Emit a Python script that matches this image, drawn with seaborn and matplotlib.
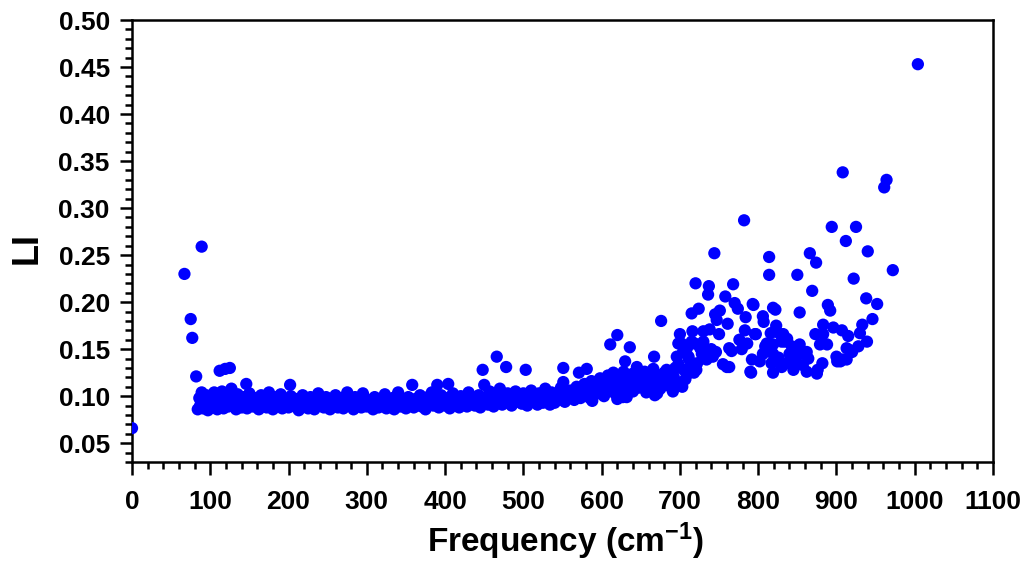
import matplotlib
matplotlib.use("Agg")
import matplotlib.pyplot as plt
import seaborn as sns
import numpy as np
import pandas as pd
from matplotlib.ticker import MultipleLocator
from matplotlib import font_manager as fm

# ---------------- data ----------------
low_freq = [0, 67, 75, 77, 82, 89, 112, 119, 125, 146, 202]
low_li = [0.066, 0.230, 0.182, 0.162, 0.121, 0.259, 0.127, 0.129, 0.130, 0.113, 0.112]

band_freq = [
    84, 86, 87, 89, 91, 93, 95, 97, 99, 101,
    103, 105, 107, 109, 111, 113, 115, 117, 119, 121,
    123, 125, 127, 129, 131, 133, 135, 138, 140, 142,
    145, 147, 150, 152, 155, 157, 160, 162, 165, 167,
    170, 172, 175, 177, 180, 182, 185, 187, 190, 192,
    195, 197, 200, 203, 205, 208, 210, 213, 215, 218,
    220, 223, 225, 228, 230, 233, 235, 238, 240, 243,
    245, 248, 250, 253, 255, 258, 260, 263, 265, 268,
    270, 273, 275, 278, 280, 283, 285, 288, 290, 293,
    295, 298, 300, 303, 305, 308, 310, 313, 315, 318,
    320, 323, 325, 328, 330, 333, 335, 338, 340, 343,
    345, 348, 350, 353, 355, 358, 360, 362, 365, 368,
    370, 373, 375, 378, 380, 383, 385, 388, 390, 392,
    395, 397, 400, 403, 404, 406, 408, 410, 413, 415,
    418, 420, 423, 425, 428, 430, 433, 435, 438, 440,
    443, 445, 448, 450, 450, 452, 455, 457, 460, 462,
    465, 466, 468, 470, 473, 475, 478, 478, 480, 483,
    485, 488, 490, 493, 495, 498, 500, 503, 503, 505,
    508, 510, 513, 515, 518, 520, 523, 525, 528, 530,
    533, 534, 536, 538, 540, 543, 545, 548, 550, 551,
    551, 553, 555, 558, 560,
]
band_li = [
    0.086, 0.098, 0.090, 0.104, 0.087, 0.094, 0.101, 0.085, 0.092, 0.097,
    0.088, 0.104, 0.093, 0.086, 0.099, 0.091, 0.105, 0.087, 0.096, 0.101,
    0.089, 0.094, 0.108, 0.091, 0.097, 0.086, 0.102, 0.093, 0.088, 0.099,
    0.095, 0.087, 0.103, 0.092, 0.089, 0.098, 0.094, 0.086, 0.101, 0.091,
    0.097, 0.088, 0.104, 0.093, 0.086, 0.099, 0.091, 0.095, 0.102, 0.087,
    0.097, 0.092, 0.088, 0.100, 0.094, 0.089, 0.097, 0.085, 0.093, 0.101,
    0.090, 0.096, 0.087, 0.099, 0.092, 0.086, 0.097, 0.103, 0.090, 0.094,
    0.088, 0.099, 0.093, 0.086, 0.096, 0.091, 0.101, 0.088, 0.094, 0.098,
    0.087, 0.092, 0.104, 0.090, 0.095, 0.086, 0.099, 0.092, 0.097, 0.088,
    0.103, 0.094, 0.089, 0.096, 0.091, 0.086, 0.099, 0.093, 0.088, 0.097,
    0.091, 0.102, 0.087, 0.095, 0.090, 0.098, 0.086, 0.093, 0.104, 0.089,
    0.096, 0.091, 0.087, 0.099, 0.094, 0.112, 0.088, 0.097, 0.092, 0.101,
    0.089, 0.095, 0.086, 0.099, 0.093, 0.104, 0.090, 0.096, 0.112, 0.088,
    0.101, 0.094, 0.090, 0.098, 0.113, 0.087, 0.095, 0.103, 0.091, 0.097,
    0.088, 0.100, 0.093, 0.096, 0.089, 0.104, 0.092, 0.098, 0.090, 0.095,
    0.101, 0.088, 0.128, 0.112, 0.094, 0.099, 0.091, 0.105, 0.096, 0.089,
    0.101, 0.142, 0.094, 0.108, 0.091, 0.098, 0.131, 0.093, 0.103, 0.096,
    0.090, 0.100, 0.105, 0.094, 0.099, 0.092, 0.103, 0.128, 0.096, 0.090,
    0.101, 0.106, 0.094, 0.099, 0.091, 0.103, 0.097, 0.093, 0.108, 0.100,
    0.095, 0.091, 0.104, 0.098, 0.093, 0.101, 0.096, 0.109, 0.099, 0.130,
    0.115, 0.094, 0.103, 0.098, 0.106,
]

rise_freq = [
    563, 565, 568, 570, 571, 573, 575, 578, 580, 581,
    583, 585, 587, 588, 590, 593, 595, 598, 600, 603,
    605, 608, 610, 611, 611, 613, 615, 617, 620, 620,
    621, 623, 625, 627, 628, 630, 630, 632, 634, 636,
    637, 640, 640, 643, 645, 647, 650, 653, 655, 657,
    660, 663, 666, 667, 668, 670, 671, 673, 675, 676,
    678, 680, 683, 685, 688, 691, 692, 694, 696, 697,
    698, 698, 700,
]
rise_li = [
    0.101, 0.096, 0.110, 0.103, 0.125, 0.098, 0.107, 0.113, 0.101, 0.129,
    0.109, 0.098, 0.116, 0.095, 0.106, 0.112, 0.103, 0.119, 0.109, 0.100,
    0.116, 0.122, 0.106, 0.155, 0.119, 0.112, 0.125, 0.103, 0.165, 0.097,
    0.115, 0.121, 0.108, 0.099, 0.126, 0.137, 0.113, 0.099, 0.119, 0.152,
    0.106, 0.105, 0.124, 0.115, 0.131, 0.109, 0.120, 0.113, 0.126, 0.104,
    0.118, 0.110, 0.129, 0.142, 0.101, 0.122, 0.103, 0.115, 0.108, 0.180,
    0.113, 0.125, 0.128, 0.118, 0.110, 0.105, 0.121, 0.130, 0.142, 0.115,
    0.134, 0.156, 0.166,
]

high_freq = [
    702, 703, 704, 705, 707, 709, 709, 711, 711, 713,
    715, 715, 716, 718, 719, 720, 721, 722, 724, 726,
    728, 730, 730, 734, 736, 737, 738, 740, 742, 744,
    745, 746, 747, 750, 751, 755, 758, 760, 761, 763,
    763, 766, 768, 770, 774, 776, 779, 782, 783, 784,
    786, 790, 791, 792, 793, 794, 796, 797, 802, 806,
    806, 807, 809, 811, 814, 814, 816, 817, 819, 819,
    819, 819, 822, 823, 828, 830, 830, 832, 834, 837,
    843, 845, 845, 850, 853, 853, 853, 862, 862, 864,
    866, 869, 873, 874, 875, 876, 879, 882, 883, 883,
    888, 889, 892, 894, 896, 900, 901, 905, 907, 908,
    908, 912, 913, 913, 915, 917, 920, 922, 925, 928,
    930, 933, 938, 939, 940, 946, 952, 961, 964, 972,
    826, 836, 840, 848, 857, 1004,
]
high_li = [
    0.156, 0.110, 0.147, 0.128, 0.118, 0.151, 0.123, 0.140, 0.142, 0.132,
    0.158, 0.188, 0.169, 0.125, 0.156, 0.220, 0.128, 0.135, 0.193, 0.151,
    0.145, 0.158, 0.169, 0.139, 0.208, 0.217, 0.171, 0.150, 0.142, 0.252,
    0.187, 0.147, 0.181, 0.166, 0.191, 0.134, 0.206, 0.131, 0.177, 0.151,
    0.131, 0.148, 0.219, 0.199, 0.193, 0.160, 0.150, 0.287, 0.170, 0.184,
    0.156, 0.126, 0.125, 0.139, 0.198, 0.197, 0.166, 0.166, 0.137, 0.145,
    0.185, 0.179, 0.153, 0.156, 0.248, 0.229, 0.167, 0.135, 0.194, 0.145,
    0.125, 0.155, 0.192, 0.175, 0.166, 0.158, 0.131, 0.166, 0.158, 0.161,
    0.153, 0.150, 0.128, 0.229, 0.189, 0.155, 0.145, 0.147, 0.126, 0.140,
    0.252, 0.212, 0.166, 0.242, 0.124, 0.128, 0.155, 0.135, 0.176, 0.166,
    0.155, 0.197, 0.191, 0.280, 0.173, 0.142, 0.137, 0.137, 0.170, 0.338,
    0.139, 0.265, 0.151, 0.139, 0.164, 0.149, 0.147, 0.225, 0.280, 0.153,
    0.167, 0.176, 0.204, 0.158, 0.254, 0.182, 0.198, 0.322, 0.330, 0.234,
    0.141, 0.135, 0.145, 0.138, 0.133, 0.453,
]

x_ticks = [0, 100, 200, 300, 400, 500, 600, 700, 800, 900, 1000, 1100]
x_tick_labels = ["0", "100", "200", "300", "400", "500", "600", "700",
                 "800", "900", "1000", "1100"]
y_ticks = [0.05, 0.10, 0.15, 0.20, 0.25, 0.30, 0.35, 0.40, 0.45, 0.50]
y_tick_labels = ["0.05", "0.10", "0.15", "0.20", "0.25", "0.30", "0.35",
                 "0.40", "0.45", "0.50"]

# ---------------- style ----------------
sns.set_style("ticks")
plt.rcParams["font.family"] = ["Liberation Sans", "DejaVu Sans"]
plt.rcParams["mathtext.fontset"] = "custom"
plt.rcParams["mathtext.rm"] = "Liberation Sans:bold"
plt.rcParams["mathtext.it"] = "Liberation Sans:bold"
plt.rcParams["mathtext.bf"] = "Liberation Sans:bold"
plt.rcParams["mathtext.default"] = "rm"
for key in ["text.color", "axes.labelcolor", "xtick.color", "ytick.color",
            "xtick.labelcolor", "ytick.labelcolor", "axes.edgecolor"]:
    plt.rcParams[key] = "black"

names = {f.name for f in fm.fontManager.ttflist}
narrow = "Liberation Sans Narrow" if "Liberation Sans Narrow" in names else "Liberation Sans"

df = pd.DataFrame({
    "freq": np.concatenate([low_freq, band_freq, rise_freq, high_freq]),
    "li": np.concatenate([low_li, band_li, rise_li, high_li]),
})

W, H = 1033, 561
fig = plt.figure(figsize=(W / 100, H / 100), dpi=100)
ax = fig.add_axes([132 / W, 1 - 462 / H, (993 - 132) / W, (462 - 20) / H])

sns.scatterplot(data=df, x="freq", y="li", color="#0000FF", s=78,
                linewidth=0, edgecolor="none", ax=ax, legend=False, zorder=3)

ax.set_xlim(0, 1100)
ax.set_ylim(0.03, 0.50)
ax.set_xticks(x_ticks)
ax.set_xticklabels(x_tick_labels, fontfamily=narrow, fontweight="bold",
                   fontsize=19, color="black")
ax.set_yticks(y_ticks)
ax.set_yticklabels(y_tick_labels, fontweight="bold", fontsize=19, color="black")
ax.xaxis.set_minor_locator(MultipleLocator(20))
ax.yaxis.set_minor_locator(MultipleLocator(0.01))

for sp in ax.spines.values():
    sp.set_linewidth(1.8)
    sp.set_color("black")

ax.tick_params(which="major", direction="out", length=9, width=1.8, color="black")
ax.tick_params(which="minor", direction="out", length=5, width=1.8, color="black")
ax.tick_params(axis="x", which="major", pad=11)
ax.tick_params(axis="y", which="major", pad=7)

ax.set_xlabel(r"Frequency (cm$^{-1}$)", fontsize=24, fontweight="bold",
              color="black")
ax.xaxis.set_label_coords(0.503, -0.132)
ax.set_ylabel("LI", fontsize=26, fontweight="bold", va="center", color="black")
ax.yaxis.set_label_coords(-0.122, 0.484)

fig.savefig("out.png", dpi=100)
